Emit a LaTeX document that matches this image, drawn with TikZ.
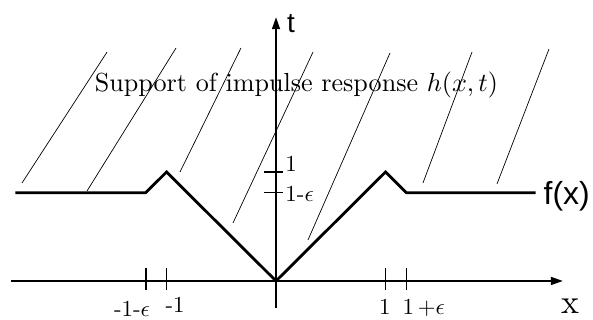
\documentclass[tikz,border=0pt]{standalone}
\usepackage{amsmath}
\usepackage{fontspec}
\setsansfont{Liberation Sans}
\usetikzlibrary{arrows.meta,positioning}

\begin{document}
\begin{tikzpicture}[x=109.5bp,y=109bp,every node/.style={inner sep=0pt},
    axis/.style={line width=1.6bp,-{Triangle[length=12bp,width=8bp]}},
    fcurve/.style={line width=2.8bp,line join=miter},
    hatchline/.style={line width=0.7bp},
    tickmark/.style={line width=1.6bp},
    ticklabel/.style={font=\normalsize,scale=2.3,transform shape},
    axislabel/.style={font=\sffamily\fontsize{28}{30}\selectfont}]
  \useasboundingbox (-2.521,-0.358) rectangle (2.895,2.578);
  % axes
  \coordinate (xfrom) at (-2.42,0);
  \coordinate (xto)   at (2.62,0);
  \coordinate (tfrom) at (0,-0.25);
  \coordinate (tto)   at (0,2.42);
  \draw[axis] (xfrom) -- (xto);
  \draw[axis] (tfrom) -- (tto);
  \node[axislabel,anchor=base west] (tlabel) at (0.10,2.284) {t};
  \node[font=\normalsize,scale=3.4,transform shape] (xlabel) at (2.685,-0.23) {x};
  % ticks
  \foreach \a in {-1.19,-1,1,1.19} \draw[tickmark] (\a,0.12) -- (\a,-0.08);
  \foreach \b in {1,0.81} \draw[tickmark] (-0.11,\b) -- (0.064,\b);
  \node[ticklabel,anchor=base] (mepslabel) at (-1.315,-0.33) {-1-$\epsilon$};
  \node[ticklabel,anchor=base] (monelabel) at (-0.922,-0.285) {-1};
  \node[ticklabel,anchor=base] (onelabel)  at (0.995,-0.31) {1};
  \node[ticklabel,anchor=base] (pepslabel) at (1.35,-0.31) {1\,+$\epsilon$};
  \node[ticklabel,anchor=base west] (tonelabel) at (0.082,1.0) {1};
  \node[ticklabel,anchor=base west] (tepslabel) at (0.082,0.725) {1-$\epsilon$};
  % characteristics
  \draw[hatchline] (-2.320,0.899) -- (-1.543,2.101);
  \draw[hatchline] (-1.726,0.826) -- (-0.913,2.138);
  \draw[hatchline] (-0.877,1.000) -- (-0.320,2.138);
  \draw[hatchline] (-0.393,0.532) -- (0.338,2.101);
  \draw[hatchline] (0.292,0.376) -- (1.041,2.092);
  \draw[hatchline] (1.342,0.899) -- (1.790,2.101);
  \draw[hatchline] (2.018,0.890) -- (2.493,2.128);
  % initial data
  \coordinate (fstart) at (-2.38,0.81);
  \coordinate (fend)   at (2.37,0.81);
  \draw[fcurve] (fstart) -- (-1.19,0.81) -- (-1,1) -- (0,0) -- (1,1)
       -- (1.19,0.81) -- (fend);
  \node[axislabel,font=\sffamily\fontsize{32}{34}\selectfont,right=8bp of fend,yshift=-4bp]
       (flabel) {f(x)};
  \node[font=\normalsize,scale=2.62,transform shape,anchor=base] (title) at (0.187,1.734)
       {Support of impulse response $h(x,t)$};
\end{tikzpicture}
\end{document}
